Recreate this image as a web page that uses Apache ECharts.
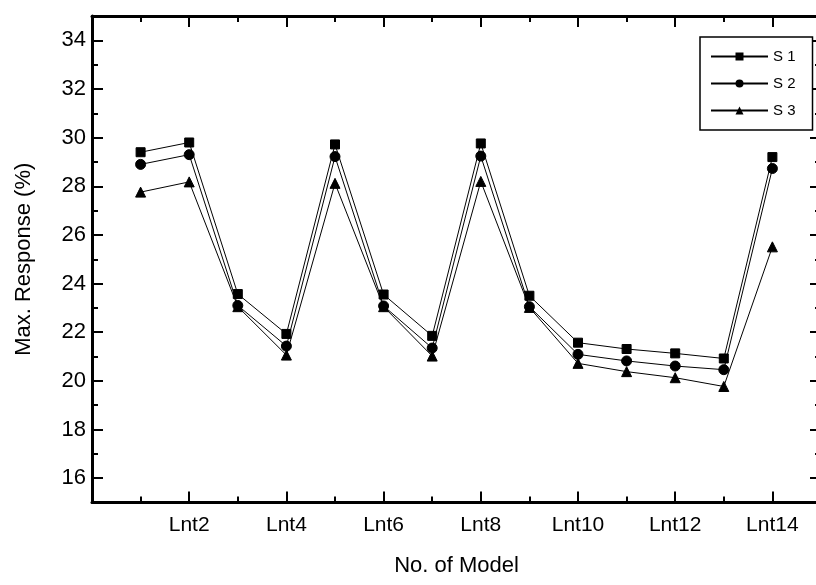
<!DOCTYPE html>
<html>
<head>
<meta charset="utf-8">
<script src="https://cdn.jsdelivr.net/npm/echarts@6/dist/echarts.min.js"></script>
<style>
html,body{margin:0;padding:0;background:#fff;}
#chart{width:816px;height:585px;}
</style>
</head>
<body>
<div id="chart"></div>
<script>
var categories = ['Lnt1','Lnt2','Lnt3','Lnt4','Lnt5','Lnt6','Lnt7','Lnt8','Lnt9','Lnt10','Lnt11','Lnt12','Lnt13','Lnt14'];
var seriesNames = ['S 1','S 2','S 3'];
var s1 = [29.40, 29.80, 23.57, 21.93, 29.72, 23.55, 21.85, 29.76, 23.50, 21.57, 21.31, 21.13, 20.92, 29.20];
var s2 = [28.90, 29.30, 23.10, 21.43, 29.22, 23.08, 21.35, 29.24, 23.05, 21.09, 20.82, 20.61, 20.46, 28.73];
var s3 = [27.76, 28.18, 23.05, 21.06, 28.12, 23.05, 21.02, 28.20, 23.02, 20.72, 20.38, 20.13, 19.77, 25.51];
var xMajorTicks = [2, 4, 6, 8, 10, 12, 14];
var xMinorTicks = [1, 3, 5, 7, 9, 11, 13];
var yMajorTicks = [16, 18, 20, 22, 24, 26, 28, 30, 32, 34];
var yMinorTicks = [17, 19, 21, 23, 25, 27, 29, 31, 33];

var FONT = 'Liberation Sans, Arial, sans-serif';
var chart = echarts.init(document.getElementById('chart'), null, {renderer: 'canvas'});

function toPairs(arr) {
  return arr.map(function (v, i) {
    var k = parseInt(categories[i].replace('Lnt', ''), 10);
    return [k, v];
  });
}

function xAx(pos, ticks, len, labels, line) {
  return {
    type: 'value', position: pos, min: 0, max: 15, offset: 0,
    axisLine: {show: line, onZero: false, lineStyle: {color: '#000', width: 3}},
    axisTick: {show: true, inside: true, length: len, customValues: ticks, lineStyle: {color: '#000', width: 2}},
    axisLabel: labels ? {show: true, customValues: ticks, margin: 12, color: '#000', fontSize: 21, fontFamily: FONT,
      formatter: function (v) { return 'Lnt' + v; }} : {show: false},
    splitLine: {show: false}
  };
}
function yAx(pos, ticks, len, labels, line) {
  return {
    type: 'value', position: pos, min: 15, max: 35, offset: 0,
    axisLine: {show: line, onZero: false, lineStyle: {color: '#000', width: 3}},
    axisTick: {show: true, inside: true, length: len, customValues: ticks, lineStyle: {color: '#000', width: 2}},
    axisLabel: labels ? {show: true, customValues: ticks, margin: 6, color: '#000', fontSize: 22, fontFamily: FONT} : {show: false},
    splitLine: {show: false}
  };
}

var xAxes = [xAx('bottom', xMajorTicks, 11, true, true), xAx('bottom', xMinorTicks, 6, false, false),
             xAx('top', xMajorTicks, 11, false, true), xAx('top', xMinorTicks, 6, false, false)];
xAxes[0].name = 'No. of Model';
xAxes[0].nameLocation = 'middle';
xAxes[0].nameGap = 52;
xAxes[0].nameTextStyle = {color: '#000', fontSize: 22, fontFamily: FONT};

var yAxes = [yAx('left', yMajorTicks, 11, true, true), yAx('left', yMinorTicks, 6, false, false),
             yAx('right', yMajorTicks, 11, false, true), yAx('right', yMinorTicks, 6, false, false)];
yAxes[0].name = 'Max. Response (%)';
yAxes[0].nameLocation = 'middle';
yAxes[0].nameGap = 57;
yAxes[0].nameTextStyle = {color: '#000', fontSize: 22, fontFamily: FONT};

var symbols = ['rect', 'circle', 'triangle'];
var sizes = [9, 10, 10];
var datas = [s1, s2, s3];

var option = {
  backgroundColor: '#fff',
  animation: false,
  grid: {left: 92, right: -5, top: 16, bottom: 82.5, outerBoundsMode: 'none', containLabel: false},
  xAxis: xAxes,
  yAxis: yAxes,
  legend: {
    left: 700, top: 37, orient: 'vertical',
    padding: [12, 17, 12, 10],
    itemGap: 12, itemWidth: 57, itemHeight: 10,
    backgroundColor: '#fff', borderColor: '#000', borderWidth: 1.5, borderRadius: 0,
    textStyle: {color: '#000', fontSize: 15, fontFamily: FONT, padding: [0, 0, 0, 0]},
    data: seriesNames
  },
  series: seriesNames.map(function (name, i) {
    return {
      name: name, type: 'line', xAxisIndex: 0, yAxisIndex: 0,
      data: toPairs(datas[i]),
      symbol: symbols[i], symbolSize: sizes[i], showSymbol: true,
      lineStyle: {color: '#000', width: 1},
      itemStyle: {color: '#000', borderColor: '#000'},
      z: 3
    };
  })
};
chart.setOption(option);
</script>
</body>
</html>
